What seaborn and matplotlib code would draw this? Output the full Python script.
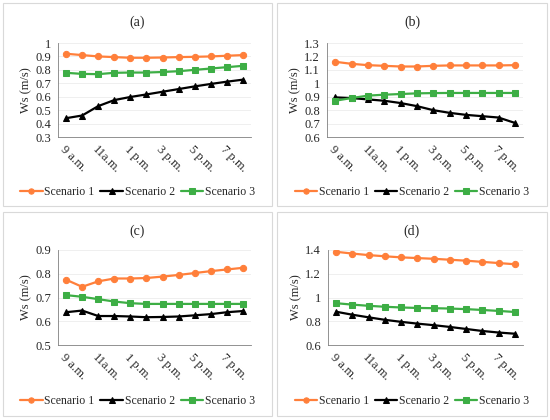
import seaborn as sns
import matplotlib.pyplot as plt
from matplotlib.patches import Rectangle

hours = ['9 a.m.', '10 a.m.', '11a.m.', '12 p.m.', '1 p.m.', '2 p.m.',
         '3 p.m.', '4 p.m.', '5 p.m.', '6 p.m.', '7 p.m.', '8 p.m.']
series_names = ['Scenario 1', 'Scenario 2', 'Scenario 3']

a_s1 = [0.92, 0.91, 0.90, 0.895, 0.89, 0.89, 0.892, 0.895, 0.897, 0.90, 0.905, 0.91]
a_s2 = [0.44, 0.46, 0.53, 0.575, 0.598, 0.617, 0.637, 0.657, 0.677, 0.695, 0.712, 0.727]
a_s3 = [0.778, 0.77, 0.768, 0.778, 0.78, 0.78, 0.784, 0.79, 0.80, 0.81, 0.82, 0.83]

b_s1 = [1.16, 1.145, 1.135, 1.13, 1.125, 1.125, 1.13, 1.133, 1.133, 1.133, 1.133, 1.135]
b_s2 = [0.895, 0.89, 0.88, 0.87, 0.853, 0.83, 0.80, 0.78, 0.765, 0.755, 0.745, 0.705]
b_s3 = [0.87, 0.89, 0.908, 0.915, 0.92, 0.925, 0.927, 0.928, 0.928, 0.928, 0.928, 0.928]

c_s1 = [0.775, 0.745, 0.768, 0.78, 0.78, 0.782, 0.788, 0.795, 0.803, 0.811, 0.818, 0.825]
c_s2 = [0.638, 0.645, 0.622, 0.622, 0.62, 0.617, 0.618, 0.62, 0.625, 0.63, 0.638, 0.643]
c_s3 = [0.71, 0.703, 0.693, 0.683, 0.676, 0.673, 0.673, 0.673, 0.673, 0.673, 0.673, 0.673]

d_s1 = [1.385, 1.37, 1.357, 1.347, 1.338, 1.332, 1.326, 1.318, 1.31, 1.30, 1.29, 1.28]
d_s2 = [0.88, 0.855, 0.833, 0.812, 0.795, 0.78, 0.767, 0.752, 0.735, 0.718, 0.705, 0.695]
d_s3 = [0.952, 0.94, 0.93, 0.922, 0.916, 0.912, 0.91, 0.907, 0.902, 0.895, 0.887, 0.878]

panels = [
    ('(a)', [a_s1, a_s2, a_s3], (0.3, 1.0), 0.1),
    ('(b)', [b_s1, b_s2, b_s3], (0.6, 1.3), 0.1),
    ('(c)', [c_s1, c_s2, c_s3], (0.5, 0.9), 0.1),
    ('(d)', [d_s1, d_s2, d_s3], (0.6, 1.4), 0.2),
]

colors = ['#FF7F3A', '#000000', '#3DAE45']
markers = ['o', '^', 's']

sns.set_theme(style='white')
plt.rcParams['font.family'] = ['Liberation Serif', 'DejaVu Serif']

fig = plt.figure(figsize=(5.5, 4.2), dpi=100)
W, H = 550, 420

# panel frames (pixels): x0, y0(top), x1, y1(bottom)
frames = [(3, 3, 272, 206), (277, 3, 547, 206), (3, 212, 272, 416), (277, 212, 547, 416)]
# plot areas (pixels): left, top, right, bottom
areas = [(58, 43, 251, 137), (327, 43, 523, 137), (58, 250, 251, 345), (328, 250, 523, 345)]

for (title, data, ylim, step), fr, ar in zip(panels, frames, areas):
    fig.patches.append(Rectangle((fr[0] / W, 1 - fr[3] / H), (fr[2] - fr[0]) / W,
                                 (fr[3] - fr[1]) / H, transform=fig.transFigure,
                                 fill=False, edgecolor='#d9d9d9', linewidth=0.8))
    ax = fig.add_axes([ar[0] / W, 1 - ar[3] / H, (ar[2] - ar[0]) / W, (ar[3] - ar[1]) / H])
    x = list(range(len(hours)))
    for vals, name, c, m in zip(data, series_names, colors, markers):
        sns.lineplot(x=x, y=vals, ax=ax, color=c, marker=m, markersize=4.5,
                     markeredgecolor=c, linewidth=1.6, label=name)
    ax.set_xlim(-0.5, len(hours) - 0.5)
    ax.set_ylim(*ylim)
    n = int(round((ylim[1] - ylim[0]) / step))
    yt = [round(ylim[0] + i * step, 2) for i in range(n + 1)]
    ax.set_yticks(yt)
    ax.set_yticklabels([('%g' % v) for v in yt], fontsize=9)
    ax.yaxis.grid(True, color='#ececec', linewidth=0.6)
    ax.set_xticks(x[::2])
    ax.set_xticklabels(hours[::2], rotation=-45, ha='left', va='top',
                       rotation_mode='anchor', fontsize=9)
    ax.tick_params(axis='both', length=3, width=0.6, color='#808080', pad=2)
    ax.tick_params(axis='x', length=0, pad=5)
    for s in ['top', 'right']:
        ax.spines[s].set_visible(False)
    for s in ['left', 'bottom']:
        ax.spines[s].set_color('#808080')
        ax.spines[s].set_linewidth(0.6)
    ax.set_ylabel('Ws (m/s)', fontsize=9, labelpad=2)
    ax.set_xlabel('')
    ax.legend_.remove()
    cx = (fr[0] + fr[2]) / 2
    fig.text(cx / W, 1 - (fr[1] + 19) / H, title, ha='center', va='center', fontsize=10)
    handles, labels = ax.get_legend_handles_labels()
    fig.legend(handles, labels, loc='center', bbox_to_anchor=(cx / W, 1 - (fr[1] + 189) / H),
               ncol=3, frameon=False, fontsize=8.5, handlelength=1.9, handletextpad=0.15,
               columnspacing=0.5, borderaxespad=0, borderpad=0, markerscale=0.85)

fig.savefig('out.png', dpi=100)
